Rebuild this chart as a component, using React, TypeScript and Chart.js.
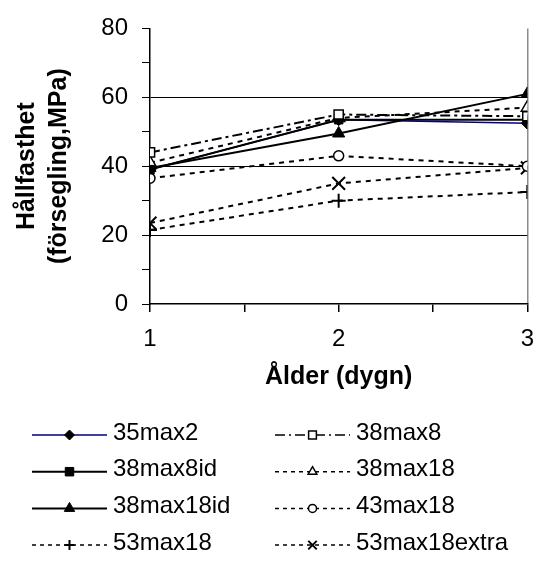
import React, { useEffect, useRef } from 'react';
import { Chart, registerables } from 'chart.js';
import { drawPoint } from 'chart.js/helpers';

Chart.register(...registerables);

// ---- data ----
const ages = [1, 2, 3];
const seriesNames = ['35max2', '38max8', '38max8id', '38max18', '38max18id', '43max18', '53max18', '53max18extra'];
const s35max2 = [39, 53.5, 52.5];
const s38max8 = [44, 55, 54.5];
const s38max8id = [39, 53.5, 53.5];
const s38max18 = [41, 54, 57];
const s38max18id = [39.5, 49.5, 61];
const s43max18 = [36.5, 43, 40];
const s53max18 = [21.5, 30, 32.5];
const s53max18extra = [23.5, 35, 39.5];
const seriesValues = [s35max2, s38max8, s38max8id, s38max18, s38max18id, s43max18, s53max18, s53max18extra];
const yTicks = { min: 0, max: 80, step: 10, labelEvery: 20 };
const xTicks = { min: 1, max: 3, step: 0.5 };
const xTitle = 'Ålder (dygn)';
const yTitle = ['Hållfasthet', '(försegling,MPa)'];

// ---- styles ----
const FONT = '"Liberation Sans", Arial, Helvetica, sans-serif';
const styles = [
  { color: '#000080', width: 1.5, dash: [], lDash: [], pt: 'rectRot', fill: '#000', r: 6, lr: 5, pbw: 1, order: 10 },
  { color: '#000', width: 2, dash: [10, 4, 3, 4], lDash: [10, 4, 2, 4], lw: 1.5, pt: 'rect', fill: '#fff', r: 6.5, lr: 5.5, pbw: 1.5, order: 0 },
  { color: '#000', width: 2, dash: [], lDash: [], pt: 'rect', fill: '#000', r: 6, lr: 6, pbw: 1, order: 0 },
  { color: '#000', width: 2, dash: [5, 5], lDash: [4, 4], lw: 1.5, pt: 'triangle', fill: '#fff', r: 7, lr: 5, pbw: 1.5, order: 0 },
  { color: '#000', width: 2, dash: [], lDash: [], pt: 'triangle', fill: '#000', r: 7, lr: 6, pbw: 1, order: 0 },
  { color: '#000', width: 2, dash: [5, 5], lDash: [4, 4], lw: 1.5, pt: 'circle', fill: '#fff', r: 5, lr: 4, pbw: 1.5, order: 0 },
  { color: '#000', width: 2, dash: [5, 5], lDash: [4, 4], lw: 1.5, pt: 'cross', fill: '#000', r: 7, lr: 5, pbw: 2, order: 0 },
  { color: '#000', width: 2, dash: [5, 5], lDash: [4, 4], lw: 1.5, pt: 'crossRot', fill: '#000', r: 9, lr: 6, pbw: 2, order: 0 },
];

const legendPlugin = {
  id: 'customLegend',
  afterDraw(chart: any) {
    const ctx = chart.ctx;
    chart.data.datasets.forEach((ds: any, i: number) => {
      const st = styles[i];
      const col = i % 2;
      const row = Math.floor(i / 2);
      const x0 = col === 0 ? 32 : 275;
      const y = 433 + row * 36.7;
      const ly = y + 2;
      ctx.save();
      ctx.strokeStyle = st.color;
      ctx.lineWidth = st.lw ?? st.width;
      ctx.setLineDash(st.lDash);
      ctx.beginPath();
      ctx.moveTo(x0, ly);
      ctx.lineTo(x0 + 75, ly);
      ctx.stroke();
      ctx.setLineDash([]);
      ctx.fillStyle = st.fill;
      ctx.strokeStyle = '#000';
      ctx.lineWidth = st.pbw;
      drawPoint(ctx, { pointStyle: st.pt, rotation: 0, radius: st.lr, borderWidth: st.pbw } as any, x0 + 37.5, ly);
      ctx.fillStyle = '#000';
      ctx.font = '24px ' + FONT;
      ctx.textBaseline = 'middle';
      ctx.textAlign = 'left';
      ctx.fillText(ds.label, x0 + 81, y);
      ctx.restore();
    });
  },
};

export default function App() {
  const ref = useRef<HTMLCanvasElement>(null);
  useEffect(() => {
    if (!ref.current) return;
    const datasets = seriesNames.map((name, i) => {
      const st = styles[i];
      return {
        label: name,
        data: ages.map((a, j) => ({ x: a, y: seriesValues[i][j] })),
        borderColor: st.color,
        borderWidth: st.width,
        borderDash: st.dash,
        pointStyle: st.pt,
        pointRadius: st.r,
        pointBackgroundColor: st.fill,
        pointBorderColor: '#000',
        pointBorderWidth: st.pbw,
        order: st.order,
        tension: 0,
        fill: false,
      };
    });
    const chart = new Chart(ref.current, {
      type: 'line',
      data: { datasets },
      plugins: [legendPlugin],
      options: {
        animation: false,
        responsive: false,
        layout: { padding: { left: 0, right: 18, top: 16, bottom: 176 } },
        plugins: { legend: { display: false }, tooltip: { enabled: false } },
        font: { family: FONT },
        scales: {
          x: {
            type: 'linear',
            min: xTicks.min,
            max: xTicks.max,
            afterFit: (s: any) => { s.height = 90; },
            ticks: {
              stepSize: xTicks.step,
              autoSkip: false,
              maxRotation: 0,
              padding: 13,
              color: '#000',
              font: { size: 24, family: FONT },
              callback: (v: any) => (Number.isInteger(Number(v)) ? String(v) : ''),
            },
            grid: {
              color: (c: any) => (c.tick && c.tick.value === xTicks.max ? '#8c8c8c' : 'rgba(0,0,0,0)'),
              tickColor: '#000',
              tickLength: 8,
              lineWidth: 1.5,
            },
            border: { color: '#000', width: 1.5 },
            title: {
              display: true,
              text: xTitle,
              color: '#000',
              font: { size: 25, weight: 'bold', family: FONT, lineHeight: 1.2 },
              padding: { top: 0, bottom: 2 },
            },
          },
          y: {
            type: 'linear',
            min: yTicks.min,
            max: yTicks.max,
            afterFit: (s: any) => { s.width = 150; },
            ticks: {
              stepSize: yTicks.step,
              autoSkip: false,
              padding: 14,
              color: '#000',
              font: { size: 24, family: FONT },
              callback: (v: any) => (Number(v) % yTicks.labelEvery === 0 ? String(v) : ''),
            },
            grid: {
              color: (c: any) => {
                const v = c.tick ? c.tick.value : -1;
                return v > yTicks.min && v < yTicks.max && v % yTicks.labelEvery === 0 ? '#000' : 'rgba(0,0,0,0)';
              },
              tickColor: '#000',
              tickLength: 8,
              lineWidth: 1,
            },
            border: { color: '#000', width: 1.5 },
            title: {
              display: true,
              text: yTitle,
              color: '#000',
              font: { size: 25, weight: 'bold', family: FONT, lineHeight: 1.28 },
              padding: { top: 11, bottom: 0 },
            },
          },
        },
      } as any,
    });
    return () => chart.destroy();
  }, []);
  return (
    <div style={{ position: 'absolute', left: 0, top: 0, width: 547, height: 570 }}>
      <canvas ref={ref} width={547} height={570} style={{ display: 'block', width: 547, height: 570 }} />
    </div>
  );
}
